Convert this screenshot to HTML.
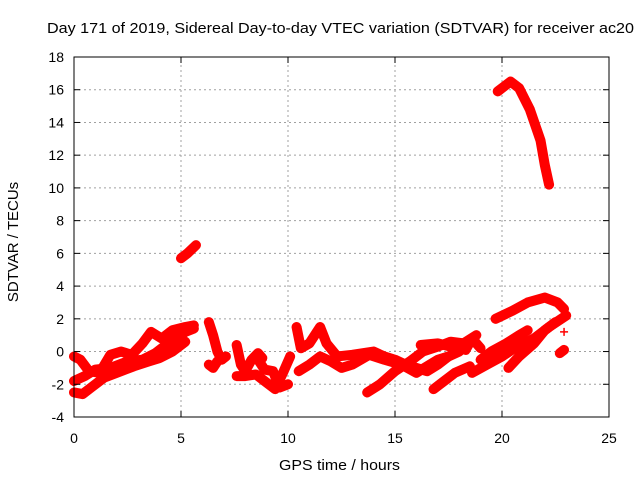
<!DOCTYPE html>
<html><head><meta charset="utf-8"><style>
body{margin:0;background:#fff}
svg text{font-family:"Liberation Sans",sans-serif;font-size:14px;fill:#000}
</style></head><body>
<svg id="chart" width="640" height="480" xmlns="http://www.w3.org/2000/svg">
<rect width="640" height="480" fill="#fff"/>
<text x="47" y="33" textLength="587" lengthAdjust="spacingAndGlyphs" style="font-size:15px">Day 171 of 2019, Sidereal Day-to-day VTEC variation (SDTVAR) for receiver ac20</text>
<text x="279" y="470" textLength="121" lengthAdjust="spacingAndGlyphs" style="font-size:15px">GPS time / hours</text>
<text transform="translate(18,242) rotate(-90)" text-anchor="middle" style="font-size:15px">SDTVAR / TECUs</text>
<g id="grid"></g><g id="marks"></g><g id="axes"></g>
</svg>
<script>
const xTicks=[0,5,10,15,20,25];
const yTicks=[-4,-2,0,2,4,6,8,10,12,14,16,18];
const traceA=[[0,-0.3],[0.3,-0.5],[0.7,-1.2],[1.2,-1.3],[1.7,-0.2],[2.2,0],[2.7,-0.2],[3.2,0.5],[3.6,1.2],[4.1,0.8],[4.6,1.3],[5.2,1.5],[5.6,1.6]];
const traceB=[[0,-1.8],[0.5,-1.5],[1,-1.1],[1.7,-1],[2.5,-0.6],[3.2,-0.5],[3.8,-0.1],[4.3,0.4],[4.8,0.8],[5.2,1.2],[5.6,1.4]];
const traceC=[[0,-2.5],[0.4,-2.6],[0.8,-2.2],[1.4,-1.6],[2,-1.3],[2.8,-0.9],[3.5,-0.6],[4,-0.4],[4.6,0],[5.2,0.6]];
const traceD=[[5.0,5.7],[5.3,6.0],[5.7,6.5]];
const traceE=[[6.3,1.8],[6.5,1.0],[6.7,0],[6.9,-0.5],[7.1,-0.3]];
const traceF=[[6.3,-0.8],[6.5,-1.0],[6.7,-0.6]];
const traceG=[[7.6,0.4],[7.8,-0.8],[8.0,-1.2],[8.3,-0.5],[8.6,-0.1],[8.8,-0.4]];
const traceH=[[7.6,-1.5],[8.0,-1.5],[8.5,-1.4],[9.0,-1.9],[9.4,-2.3],[9.8,-1.2],[10.1,-0.3]];
const traceI=[[8.5,-0.3],[8.9,-1.1],[9.3,-1.2],[9.6,-2.2],[10.0,-2.0]];
const traceM1=[[10.4,1.5],[10.6,0.2],[11,0.5],[11.5,1.5],[11.8,0.5],[12.3,-0.3],[13,-0.2],[13.5,-0.1],[14,0],[14.5,-0.3],[15,-0.5],[15.5,-0.8],[16,-1],[16.5,-1.2],[17,-0.8],[17.5,-0.3],[18,0]];
const traceM2=[[10.5,-1.2],[11,-0.8],[11.5,-0.3],[12,-0.6],[12.5,-1.0],[13,-0.8],[13.8,-0.2],[14.5,-0.5],[15.3,-0.8],[16,-1.3],[16.5,-0.9],[17,-0.5],[17.5,-0.3]];
const traceM3=[[13.7,-2.5],[14.3,-2.0],[15,-1.2],[15.7,-0.6],[16.3,0],[17,0.3],[17.6,0.6],[18.2,0.5],[18.8,1.0]];
const traceM4=[[16.2,0.4],[17,0.5],[17.6,0.3],[18.3,0.1],[18.6,0.8],[19,0.2]];
const traceM5=[[16.8,-2.3],[17.3,-1.8],[17.8,-1.3],[18.5,-0.9]];
const traceM6=[[18.6,-1.3],[19.3,-0.8],[20,-0.3],[20.8,0.4],[21.5,0.8],[22.2,1.5],[23,2.2]];
const traceM7=[[19,-0.5],[19.5,0],[20.2,0.5],[20.8,1.0],[21.2,1.3]];
const traceM8=[[20.3,-1.0],[20.8,-0.3],[21.5,0.5],[22,1.3],[22.5,1.8]];
const traceUp=[[19.7,2.0],[20.5,2.5],[21.2,3.0],[22,3.3],[22.6,3.0],[22.9,2.6]];
const traceHigh=[[19.8,15.9],[20.1,16.2],[20.4,16.5],[20.8,16.1],[21.3,14.8],[21.8,12.9],[22.0,11.4],[22.2,10.2]];
const traceIso1=[[22.9,1.2]];
const traceIso2=[[22.7,-0.1],[22.9,0.1]];
const traces=[traceA,traceB,traceC,traceD,traceE,traceF,traceG,traceH,traceI,traceM1,traceM2,traceM3,traceM4,traceM5,traceM6,traceM7,traceM8,traceUp,traceHigh,traceIso1,traceIso2];

const X0=74,X1=609,Y0=417,Y1=57;
const sx=v=>X0+(v-0)/(25-0)*(X1-X0);
const sy=v=>Y0-(v+4)/(18+4)*(Y0-Y1);
const NS="http://www.w3.org/2000/svg";
function mk(tag,attrs,parent){const e=document.createElementNS(NS,tag);for(const k in attrs)e.setAttribute(k,attrs[k]);parent.appendChild(e);return e;}
const grid=document.getElementById('grid'),marks=document.getElementById('marks'),axes=document.getElementById('axes');
xTicks.forEach(t=>{
  if(t>0&&t<25){const g=mk('line',{x1:sx(t),x2:sx(t),y1:Y0,y2:Y1,stroke:'#a0a0a0','stroke-dasharray':'2,3'},grid);
  
  }
  const l=mk('text',{x:sx(t),y:Y0+26,'text-anchor':'middle'},axes);l.textContent=t;
  
  
  mk('line',{x1:sx(t),x2:sx(t),y1:Y0,y2:Y0-6,stroke:'#000'},axes);
  mk('line',{x1:sx(t),x2:sx(t),y1:Y1,y2:Y1+6,stroke:'#000'},axes);
});
yTicks.forEach(t=>{
  if(t>-4&&t<18){const g=mk('line',{x1:X0,x2:X1,y1:sy(t),y2:sy(t),stroke:'#a0a0a0','stroke-dasharray':'2,3'},grid);
  
  }
  const l=mk('text',{x:X0-10,y:sy(t)+5,'text-anchor':'end'},axes);l.textContent=t;
  
  
  mk('line',{x1:X0,x2:X0+6,y1:sy(t),y2:sy(t),stroke:'#000'},axes);
  mk('line',{x1:X1,x2:X1-6,y1:sy(t),y2:sy(t),stroke:'#000'},axes);
});
const frame=mk('rect',{x:X0,y:Y1,width:X1-X0,height:Y0-Y1,fill:'none',stroke:'#000'},axes);


traces.forEach(tr=>{
  const pts=tr.map(p=>sx(p[0])+','+sy(p[1])).join(' ');
  if(tr.length>1){const pl=mk('polyline',{points:pts,fill:'none',stroke:'#f00','stroke-width':10,'stroke-linejoin':'round','stroke-linecap':'round'},marks);
  
  }
  tr.forEach(p=>{const x=sx(p[0]),y=sy(p[1]);
    const m=mk('path',{d:`M${x-4},${y}H${x+4}M${x},${y-4}V${y+4}`,stroke:'#f00','stroke-width':1.5},marks);
    
    
  });
});
</script>
</body></html>
